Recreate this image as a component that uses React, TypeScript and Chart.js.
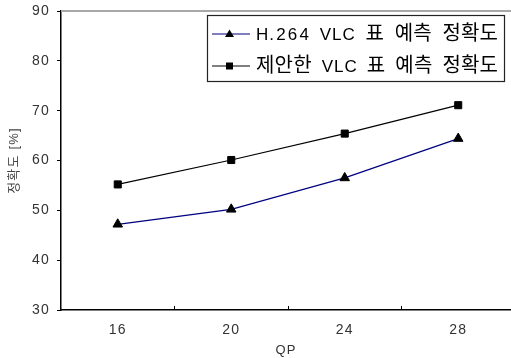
import React, { useEffect, useRef } from "react";
import { Chart, registerables } from "chart.js";

Chart.register(...registerables);

const categories = [16, 20, 24, 28];
const h264Values = [47.2, 50.2, 56.5, 64.4];
const proposedValues = [55.2, 60.1, 65.4, 71.1];
const seriesLabels = ["H.264 VLC 표 예측 정확도", "제안한 VLC 표 예측 정확도"];
const yTicks = [30, 40, 50, 60, 70, 80, 90];

const FONT = "'Liberation Sans', 'Noto Sans CJK KR', sans-serif";

const isHangul = (ch: string) => ch.charCodeAt(0) >= 0xac00 && ch.charCodeAt(0) <= 0xd7a3;

function drawJustified(ctx: any, text: string, x0: number, x1: number, y: number) {
  const words = text.split(" ");
  const setFont = (ch: string) => {
    ctx.font = isHangul(ch) ? "20px 'Noto Sans CJK KR'" : `17px 'Liberation Sans'`;
  };
  const spacingFor = (ch: string) => (isHangul(ch) ? 0.2 : /[0-9.]/.test(ch) ? 2.2 : 1);
  const widths = words.map((w) => {
    let total = 0;
    const chars = Array.from(w);
    chars.forEach((ch, i) => {
      setFont(ch);
      total += ctx.measureText(ch).width;
      if (i < chars.length - 1) total += spacingFor(ch);
    });
    return total;
  });
  const sum = widths.reduce((a, b) => a + b, 0);
  const gap = words.length > 1 ? (x1 - x0 - sum) / (words.length - 1) : 0;
  let x = x0;
  words.forEach((w) => {
    const chars = Array.from(w);
    chars.forEach((ch) => {
      setFont(ch);
      ctx.fillText(ch, x, y);
      x += ctx.measureText(ch).width + spacingFor(ch);
    });
    x = x - spacingFor(chars[chars.length - 1]) + gap;
  });
}

const spacingPlugin = {
  id: "spacing",
  beforeDraw(chart: any) {
    (chart.ctx as any).letterSpacing = "1.2px";
  },
};

const framePlugin = {
  id: "frame",
  afterDraw(chart: any) {
    const { ctx, chartArea } = chart;
    const x = chart.scales.x;
    ctx.save();
    (ctx as any).letterSpacing = "0px";
    // top border
    ctx.strokeStyle = "#a8a8a8";
    ctx.lineWidth = 2;
    ctx.beginPath();
    ctx.moveTo(chartArea.left, chartArea.top);
    ctx.lineTo(chartArea.right, chartArea.top);
    ctx.stroke();
    // inward minor ticks between categories
    ctx.strokeStyle = "#000";
    ctx.lineWidth = 1;
    for (let i = 0; i < categories.length - 1; i++) {
      const v = (categories[i] + categories[i + 1]) / 2;
      const px = Math.round(x.getPixelForValue(v)) + 0.5;
      ctx.beginPath();
      ctx.moveTo(px, chartArea.bottom);
      ctx.lineTo(px, chartArea.bottom - 4);
      ctx.stroke();
    }
    // legend box
    const w = 297;
    const h = 66;
    const bx = chartArea.right - 7 - w;
    const by = chartArea.top + 4;
    ctx.fillStyle = "#fff";
    ctx.fillRect(bx, by, w, h);
    ctx.strokeStyle = "#222";
    ctx.lineWidth = 1.2;
    ctx.strokeRect(bx + 0.5, by + 0.5, w, h);
    chart.data.datasets.forEach((ds: any, i: number) => {
      const cy = by + 19 + i * 32;
      ctx.strokeStyle = ds.borderColor;
      ctx.lineWidth = 1;
      ctx.beginPath();
      ctx.moveTo(bx + 5, cy);
      ctx.lineTo(bx + 43, cy);
      ctx.stroke();
      ctx.fillStyle = "#000";
      const mx = bx + 22.5;
      if (ds.pointStyle === "triangle") {
        ctx.beginPath();
        ctx.moveTo(mx, cy - 4.5);
        ctx.lineTo(mx + 4.5, cy + 3);
        ctx.lineTo(mx - 4.5, cy + 3);
        ctx.closePath();
        ctx.fill();
      } else {
        ctx.fillRect(mx - 3.5, cy - 3.5, 7, 7);
      }
      ctx.fillStyle = "#000";
      ctx.textAlign = "left";
      ctx.textBaseline = "alphabetic";
      drawJustified(ctx, ds.label, bx + 49, bx + 291, cy + 6);
    });
    ctx.restore();
  },
};

export default function App() {
  const ref = useRef<HTMLCanvasElement>(null);
  useEffect(() => {
    document.body.style.margin = "0";
    const chart = new Chart(ref.current!, {
      type: "line",
      data: {
        datasets: [
          {
            label: seriesLabels[0],
            data: categories.map((c, i) => ({ x: c, y: h264Values[i] })),
            borderColor: "#000080",
            borderWidth: 1.2,
            pointStyle: "triangle",
            pointRadius: 5.5,
            pointBackgroundColor: "#000",
            pointBorderColor: "#000",
            pointBorderWidth: 1,
            tension: 0,
          },
          {
            label: seriesLabels[1],
            data: categories.map((c, i) => ({ x: c, y: proposedValues[i] })),
            borderColor: "#000",
            borderWidth: 1.2,
            pointStyle: "rect",
            pointRadius: 5,
            pointBackgroundColor: "#000",
            pointBorderColor: "#000",
            pointBorderWidth: 1,
            tension: 0,
          },
        ],
      },
      options: {
        animation: false,
        responsive: false,
        layout: { autoPadding: false, padding: { top: 11, right: 0, left: 0, bottom: 0 } },
        plugins: { legend: { display: false }, tooltip: { enabled: false } },
        scales: {
          x: {
            type: "linear",
            min: 14,
            max: 29.86,
            afterBuildTicks: (s: any) => {
              s.ticks = categories.map((v) => ({ value: v }));
            },
            afterFit: (s: any) => {
              s.height = 48;
              s.paddingLeft = 0;
              s.paddingRight = 0;
            },
            grid: { drawOnChartArea: false, drawTicks: false, display: true, color: "#000" },
            border: { display: true, color: "#000", width: 1.5 },
            ticks: {
              autoSkip: false,
              maxRotation: 0,
              padding: 12,
              color: "#333",
              font: { family: FONT, size: 14 },
              callback: (v: any) => String(v),
            },
            title: {
              display: true,
              text: "QP",
              color: "#333",
              font: { family: FONT, size: 13 },
              padding: { top: 0, bottom: 0 },
            },
          },
          y: {
            min: 30,
            max: 90,
            afterBuildTicks: (s: any) => {
              s.ticks = yTicks.map((v) => ({ value: v }));
            },
            afterFit: (s: any) => {
              s.width = 61;
              s.paddingTop = 0;
              s.paddingBottom = 0;
            },
            grid: { drawOnChartArea: false, drawTicks: true, tickLength: 4, color: "#000" },
            border: { display: true, color: "#000", width: 1.5 },
            ticks: {
              padding: 7,
              color: "#333",
              font: { family: FONT, size: 14 },
            },
            title: {
              display: true,
              text: "정확도 [%]",
              color: "#444",
              font: { family: FONT, size: 13 },
              padding: { top: 7, bottom: 0 },
            },
          },
        },
      },
      plugins: [spacingPlugin, framePlugin],
    });
    return () => chart.destroy();
  }, []);
  return (
    <div style={{ width: 511, height: 358 }}>
      <canvas ref={ref} width={511} height={358} />
    </div>
  );
}
